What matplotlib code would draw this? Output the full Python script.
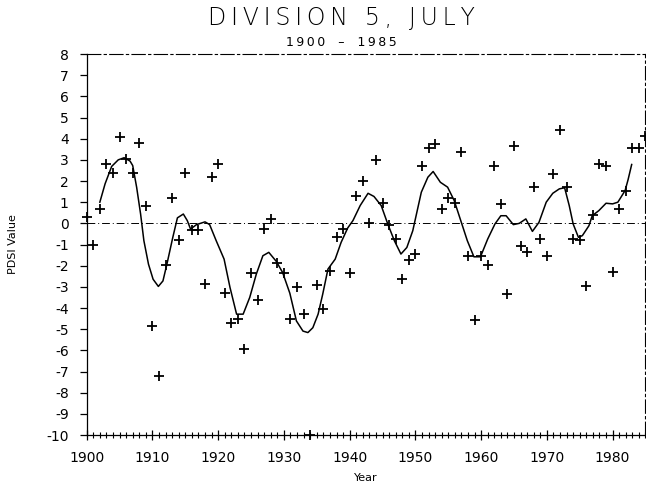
import matplotlib
matplotlib.use('Agg')
import matplotlib.pyplot as plt
import numpy as np

# Yearly PDSI values (division 5, July)
years = list(range(1900, 1986))
pdsi = [0.28, -1.0, 0.7, 2.8, 2.4, 4.1, 3.05, 2.4, 3.8, 0.8,
        -4.85, -7.2, -1.95, 1.2, -0.8, 2.4, -0.3, -0.3, -2.85, 2.2,
        2.8, -3.3, -4.7, -4.5, -5.95, -2.35, -3.6, -0.25, 0.2, -1.85,
        -2.35, -4.5, -3.0, -4.3, -10.0, -2.9, -4.05, -2.25, -0.65, -0.25,
        -2.35, 1.3, 2.0, 0.0, 3.0, 0.95, -0.1, -0.75, -2.65, -1.75,
        -1.45, 2.7, 3.55, 3.75, 0.7, 1.2, 0.95, 3.35, -1.55, -4.55,
        -1.55, -1.95, 2.7, 0.9, -3.35, 3.65, -1.05, -1.35, 1.7, -0.75,
        -1.55, 2.35, 4.4, 1.7, -0.75, -0.8, -2.95, 0.4, 2.8, 2.7,
        -2.3, 0.7, 1.55, 3.55, 3.55, 4.15]

# Smoothed curve
curve_x = [1902.0, 1902.8, 1903.8, 1904.8, 1905.7, 1906.6, 1907.0, 1907.6, 1908.2, 1908.7,
           1909.4, 1910.1, 1910.9, 1911.6, 1912.2, 1913.1, 1913.8, 1914.7, 1915.3, 1915.8,
           1916.7, 1918.0, 1918.7, 1919.7, 1920.9, 1921.8, 1922.8, 1923.8, 1924.8, 1925.8,
           1926.8, 1927.7, 1928.85, 1929.8, 1930.9, 1931.9, 1932.9, 1933.65, 1934.4, 1935.2,
           1935.9, 1936.7, 1937.8, 1938.7, 1939.7, 1940.5, 1941.6, 1942.8, 1943.7, 1944.8,
           1945.8, 1946.8, 1947.8, 1948.7, 1949.6, 1950.9, 1951.9, 1952.7, 1953.8, 1954.9,
           1955.9, 1956.9, 1957.9, 1958.9, 1959.9, 1961.0, 1962.1, 1963.0, 1963.8, 1964.9,
           1965.8, 1966.8, 1967.8, 1968.8, 1969.9, 1970.9, 1971.9, 1972.7, 1973.4, 1974.0,
           1974.8, 1975.4, 1976.4, 1976.9, 1977.9, 1979.0, 1980.0, 1980.8, 1981.9, 1982.35,
           1982.9]
curve_y = [1.0, 1.87, 2.69, 3.0, 3.1, 2.94, 2.73, 1.7, 0.44, -0.82,
           -1.93, -2.64, -2.98, -2.72, -1.93, -0.66, 0.26, 0.44, 0.13, -0.27,
           -0.06, 0.07, -0.06, -0.82, -1.69, -3.03, -4.29, -4.29, -3.5, -2.4,
           -1.53, -1.37, -1.8, -2.32, -3.3, -4.61, -5.09, -5.16, -4.93, -4.29,
           -3.35, -2.16, -1.69, -0.9, -0.22, 0.13, 0.84, 1.42, 1.27, 0.84,
           -0.03, -0.82, -1.45, -1.14, -0.35, 1.47, 2.18, 2.45, 1.94, 1.71,
           1.08, 0.13, -0.82, -1.58, -1.58, -0.74, -0.03, 0.36, 0.36, -0.06,
           0.0, 0.21, -0.38, 0.05, 1.0, 1.42, 1.63, 1.68, 0.84, -0.03,
           -0.66, -0.58, -0.11, 0.36, 0.6, 0.95, 0.92, 1.0, 1.55, 2.06,
           2.78]

y_ticks = list(range(-10, 9))
x_ticks = list(range(1900, 1990, 10))

title = 'DIVISION 5, JULY'
subtitle = '1900 \u2013 1985'

plt.rcParams['font.family'] = ['DejaVu Sans']


def spaced(s, gap, wide=True):
    # widen the letter spacing like the old plotter lettering
    out = gap.join(s)
    return out.replace(' ', '  ') if wide else out


fig = plt.figure(figsize=(6.46, 4.91), dpi=100)
ax = fig.add_axes([0.1342, 0.114, 0.8650, 0.776])

# zero line
ax.axhline(0, color='black', linewidth=0.7, linestyle=(0, (8, 3, 1, 3)))

ax.plot(curve_x, curve_y, color='black', linewidth=1.1)
ax.plot(years, pdsi, linestyle='none', marker='+', markersize=6.5,
        markeredgewidth=1.3, color='black', clip_on=False)

ax.set_xlim(1900, 1985)
ax.set_ylim(-10, 8)

ax.set_yticks(y_ticks)
ax.set_yticklabels([str(v) for v in y_ticks])
ax.set_xticks(x_ticks)
ax.set_xticks(range(1900, 1986), minor=True)

ax.tick_params(axis='y', direction='out', length=5, width=0.9, pad=8, labelsize=10)
ax.tick_params(axis='x', which='major', direction='inout', length=7, width=0.9, pad=8, labelsize=10)
ax.tick_params(axis='x', which='minor', direction='inout', length=5, width=0.8)

for s in ['top', 'right']:
    ax.spines[s].set_linestyle((0, (12, 3, 2, 3)))
    ax.spines[s].set_linewidth(0.8)
ax.spines['left'].set_linewidth(0.9)
ax.spines['bottom'].set_linewidth(0.9)

ax.set_xlabel('Year', fontsize=8, labelpad=6)
ax.set_ylabel('PDSI Value', fontsize=8, labelpad=20)

# titles
fig.text(0.528, 0.963, spaced(title, '\u2009', wide=False), ha='center', va='center',
         fontsize=17, fontweight='light')
fig.text(0.528, 0.913, spaced(subtitle, '\u2009'), ha='center', va='center', fontsize=9)

fig.savefig('out.png', dpi=100)
